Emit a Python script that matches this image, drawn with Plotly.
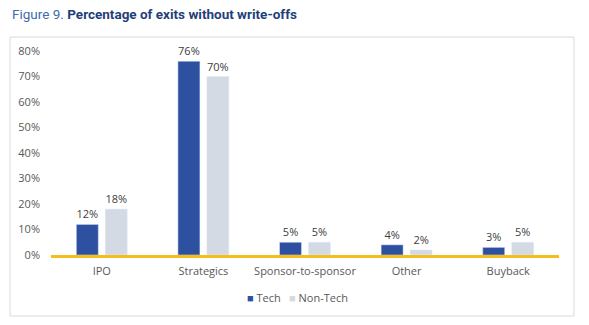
import plotly.graph_objects as go

categories = ["IPO", "Strategics", "Sponsor-to-sponsor", "Other", "Buyback"]
tech = [0.12, 0.76, 0.05, 0.04, 0.03]
non_tech = [0.18, 0.70, 0.05, 0.02, 0.05]
tech_labels = ["12%", "76%", "5%", "4%", "3%"]
non_tech_labels = ["18%", "70%", "5%", "2%", "5%"]
series_names = ["Tech", "Non-Tech"]
series_colors = ["#2D51A0", "#D3DAE3"]

FONT = "Open Sans"
fig = go.Figure()
fig.add_trace(go.Bar(x=categories, y=tech, name=series_names[0], marker_color=series_colors[0],
                     text=tech_labels, textposition="outside", cliponaxis=False,
                     textfont=dict(size=11, color="#404040", family=FONT)))
fig.add_trace(go.Bar(x=categories, y=non_tech, name=series_names[1], marker_color=series_colors[1],
                     text=non_tech_labels, textposition="outside", cliponaxis=False,
                     textfont=dict(size=11, color="#404040", family=FONT)))

legend_ann = [
    dict(text=f"<span style='color:{series_colors[0]}'>■</span> {series_names[0]}",
         xref="paper", yref="paper", x=0.381, y=-0.206, xanchor="left", yanchor="middle",
         showarrow=False, font=dict(family=FONT, size=11, color="#595959")),
    dict(text=f"<span style='color:{series_colors[1]}'>■</span> {series_names[1]}",
         xref="paper", yref="paper", x=0.465, y=-0.206, xanchor="left", yanchor="middle",
         showarrow=False, font=dict(family=FONT, size=11, color="#595959")),
]

fig.update_layout(
    width=589, height=325,
    margin=dict(l=51, r=30, t=51, b=70),
    paper_bgcolor="white", plot_bgcolor="white",
    barmode="group", bargap=0.43, bargroupgap=0.24,
    font=dict(family=FONT, size=11, color="#595959"),
    showlegend=False,
    yaxis=dict(range=[0, 0.8], tickvals=[0, 0.1, 0.2, 0.3, 0.4, 0.5, 0.6, 0.7, 0.8],
               tickformat=".0%", showgrid=False, zeroline=False, showline=False,
               ticks="", ticklabelstandoff=10),
    xaxis=dict(showline=True, linecolor="#F5BE1A", linewidth=3, ticks="",
               showgrid=False, ticklabelstandoff=4),
    annotations=[dict(
        text="<span style='color:#3E6CA8'>Figure 9. </span><b>Percentage of exits without write-offs</b>",
        xref="paper", yref="paper", x=-0.081, y=1.18, xanchor="left", yanchor="middle",
        showarrow=False, font=dict(family="Roboto", size=13.5, color="#1F3F7A"))] + legend_ann,
    shapes=[dict(type="rect", xref="paper", yref="paper",
                 x0=-0.0807, x1=1.0295, y0=-0.299, y1=1.0686,
                 line=dict(color="#DADADA", width=1), fillcolor="rgba(0,0,0,0)", layer="below")],
)

fig.write_html("out.html")
